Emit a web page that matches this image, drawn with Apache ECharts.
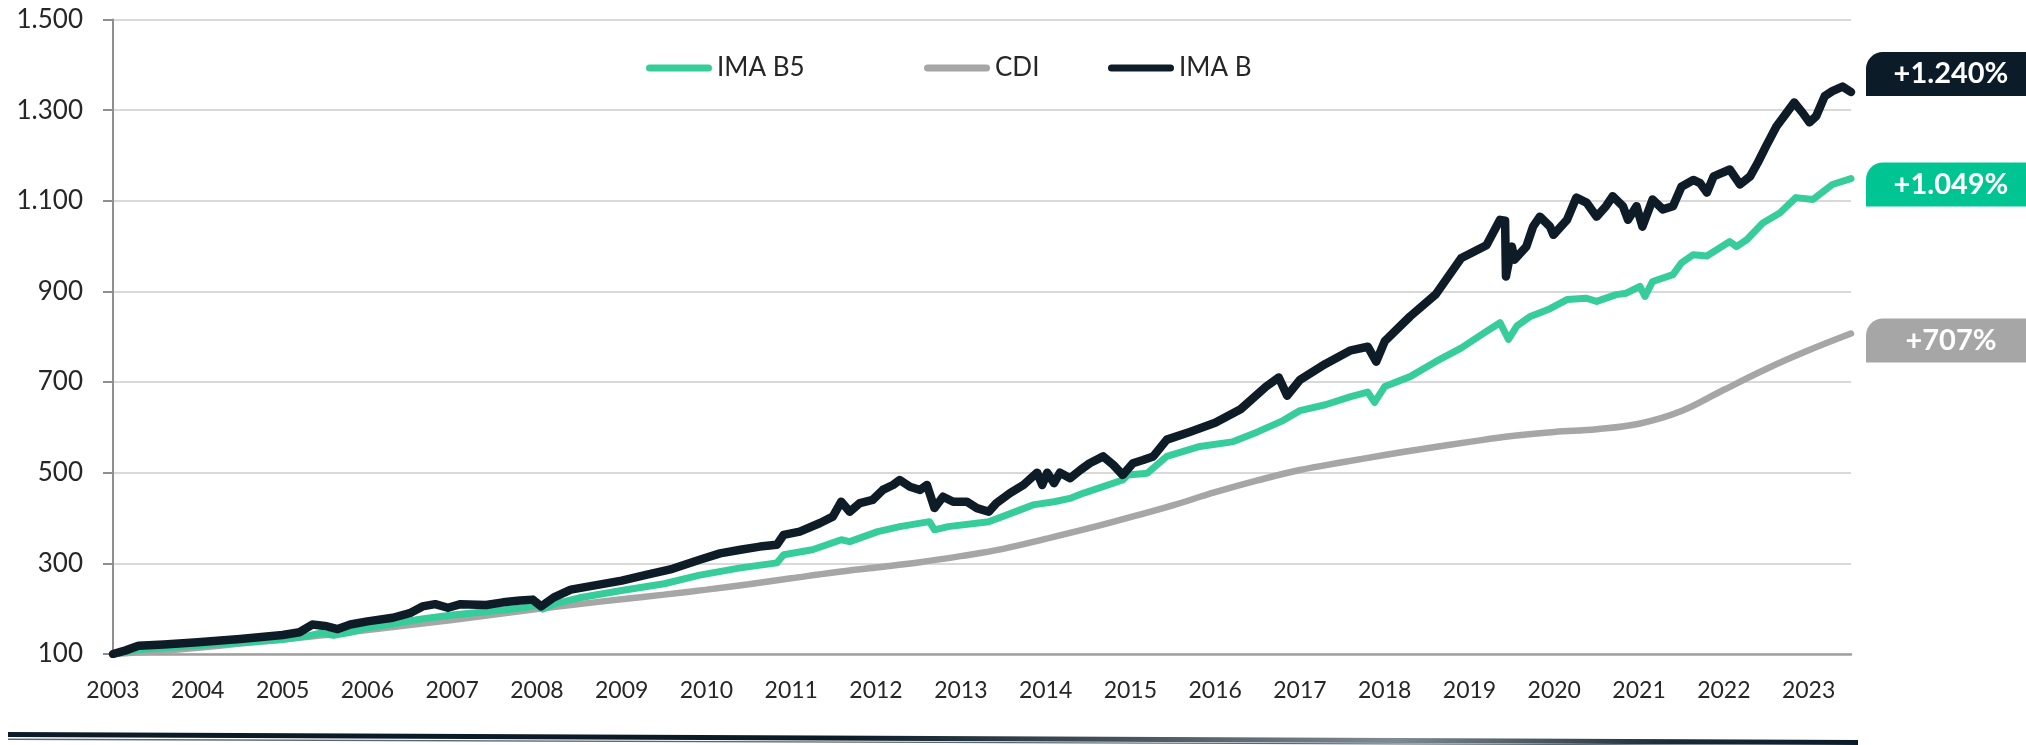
<!DOCTYPE html>
<html>
<head>
<meta charset="utf-8">
<script src="https://cdn.jsdelivr.net/npm/echarts@6/dist/echarts.min.js"></script>
<style>
  html, body { margin: 0; padding: 0; background: #ffffff; }
  #chart { width: 2026px; height: 745px; }
</style>
</head>
<body>
<div id="chart"></div>
<script>
// Accumulated index (base 100 at the start of 2003); x = decimal year
const yearTicks = [2003, 2004, 2005, 2006, 2007, 2008, 2009, 2010, 2011, 2012, 2013,
  2014, 2015, 2016, 2017, 2018, 2019, 2020, 2021, 2022, 2023];
const valueTicks = [100, 300, 500, 700, 900, 1100, 1300, 1500];

const cdi = [
  [2003.0, 100], [2003.5, 106], [2004.0, 114], [2004.5, 123], [2005.0, 132], [2005.5, 142],
  [2006.0, 153], [2006.5, 164], [2007.0, 175], [2007.5, 187], [2008.0, 199], [2008.5, 210],
  [2009.0, 221], [2009.5, 231], [2010.0, 242], [2010.5, 254], [2011.0, 267], [2011.5, 280],
  [2012.0, 291], [2012.5, 302], [2013.0, 316], [2013.5, 332], [2014.0, 354], [2014.5, 377],
  [2015.0, 402], [2015.5, 428], [2016.0, 457], [2016.5, 483], [2017.0, 506], [2017.5, 523],
  [2018.0, 539], [2018.5, 554], [2019.0, 568], [2019.5, 581], [2020.0, 590], [2020.5, 596],
  [2021.0, 608], [2021.5, 636], [2022.0, 683], [2022.5, 729], [2023.0, 770], [2023.5, 807]
];

const imaB5 = [
  [2003.0, 100], [2003.3, 110], [2003.6, 114], [2004.0, 119], [2004.5, 125], [2005.0, 132],
  [2005.3, 140], [2005.45, 146], [2005.6, 141], [2005.8, 148], [2006.0, 158], [2006.3, 166],
  [2006.6, 176], [2007.0, 186], [2007.4, 193], [2007.8, 201], [2008.0, 207], [2008.07, 199],
  [2008.2, 210], [2008.5, 224], [2009.0, 240], [2009.5, 255], [2009.92, 274], [2010.4, 290],
  [2010.83, 301], [2010.91, 319], [2011.25, 330], [2011.59, 352], [2011.69, 348], [2012.02, 370],
  [2012.28, 381], [2012.63, 392], [2012.69, 374], [2012.85, 381], [2013.33, 392], [2013.7, 418],
  [2013.85, 429], [2014.1, 436], [2014.3, 444], [2014.45, 455], [2014.91, 484], [2014.97, 495],
  [2015.2, 499], [2015.43, 536], [2015.82, 558], [2016.2, 568], [2016.5, 590],
  [2016.8, 615], [2017.0, 637], [2017.3, 650], [2017.6, 668], [2017.8, 678], [2017.88, 655],
  [2018.0, 690], [2018.3, 712], [2018.6, 745], [2018.9, 775], [2019.2, 812], [2019.36, 831],
  [2019.46, 794], [2019.56, 824], [2019.71, 844], [2019.95, 862], [2020.15, 882], [2020.38, 885],
  [2020.5, 878], [2020.73, 893], [2020.85, 896], [2021.01, 911], [2021.07, 889], [2021.16, 922],
  [2021.4, 937], [2021.5, 963], [2021.64, 981], [2021.8, 978], [2022.07, 1010], [2022.15, 999],
  [2022.27, 1014], [2022.46, 1051], [2022.66, 1073], [2022.85, 1107], [2023.05, 1103],
  [2023.28, 1136], [2023.5, 1149]
];

const imaB = [
  [2003.0, 100], [2003.15, 108], [2003.3, 118], [2003.6, 121], [2004.0, 126], [2004.5, 133],
  [2005.0, 142], [2005.2, 148], [2005.35, 165], [2005.5, 162], [2005.65, 155], [2005.8, 165],
  [2006.0, 172], [2006.3, 180], [2006.5, 190], [2006.65, 205], [2006.8, 210], [2006.95, 202],
  [2007.1, 210], [2007.4, 208], [2007.6, 214], [2007.8, 218], [2007.95, 220], [2008.05, 205],
  [2008.2, 225], [2008.4, 242], [2008.7, 252], [2009.0, 262], [2009.3, 275], [2009.6, 288],
  [2009.92, 308], [2010.16, 322], [2010.4, 330], [2010.63, 337], [2010.83, 341], [2010.91, 363],
  [2011.1, 370], [2011.34, 389], [2011.49, 403], [2011.59, 436], [2011.69, 414], [2011.81, 433],
  [2011.96, 440], [2012.08, 462], [2012.2, 473], [2012.28, 484], [2012.4, 469], [2012.52, 462],
  [2012.6, 473], [2012.69, 422], [2012.79, 447], [2012.91, 436], [2013.07, 436], [2013.19, 422],
  [2013.33, 414], [2013.42, 433], [2013.58, 455], [2013.74, 473], [2013.9, 500], [2013.96, 473],
  [2014.02, 500], [2014.1, 477], [2014.17, 500], [2014.29, 488], [2014.41, 506], [2014.52, 521],
  [2014.68, 536], [2014.8, 517], [2014.91, 495], [2015.03, 521], [2015.15, 528], [2015.27, 536],
  [2015.43, 573], [2015.7, 590], [2016.0, 610], [2016.3, 640], [2016.6, 690], [2016.75, 710],
  [2016.85, 670], [2017.0, 705], [2017.3, 740], [2017.6, 770], [2017.8, 778], [2017.9, 745],
  [2018.0, 790], [2018.3, 845], [2018.6, 893], [2018.9, 973], [2019.2, 1002], [2019.36, 1058],
  [2019.42, 1056], [2019.43, 933], [2019.5, 999], [2019.53, 970], [2019.67, 999], [2019.75, 1043],
  [2019.83, 1065], [2019.95, 1043], [2019.99, 1025], [2020.15, 1058], [2020.26, 1107],
  [2020.38, 1096], [2020.5, 1065], [2020.61, 1088], [2020.69, 1110], [2020.81, 1088],
  [2020.87, 1058], [2020.97, 1088], [2021.04, 1043], [2021.16, 1103], [2021.28, 1081],
  [2021.4, 1088], [2021.5, 1131], [2021.64, 1146], [2021.72, 1139], [2021.8, 1118],
  [2021.88, 1154], [2022.07, 1169], [2022.19, 1136], [2022.31, 1154], [2022.4, 1184],
  [2022.5, 1221], [2022.62, 1264], [2022.74, 1294], [2022.83, 1317], [2022.93, 1294],
  [2023.01, 1273], [2023.09, 1287], [2023.19, 1331], [2023.28, 1342], [2023.4, 1352],
  [2023.5, 1340]
];

const COLORS = {
  imaB5: '#36cd9a', imaB5Tag: '#00c593',
  cdi: '#a6a6a6', cdiTag: '#a6a6a6',
  imaB: '#0e1c28', imaBTag: '#0b1b27'
};
const FONT = 'Lato, "Noto Sans", sans-serif';

// pt-BR thousands separator
function fmt(n) {
  return String(Math.round(n)).replace(/\B(?=(\d{3})+(?!\d))/g, '.');
}
function gainLabel(p) {
  return '{v|+' + fmt(p.value[1] - 100) + '%}';
}
function endTag(bg, dy) {
  return {
    show: true,
    distance: 15,
    offset: [0, dy],
    formatter: gainLabel,
    backgroundColor: bg,
    borderRadius: [17, 0, 17, 0],
    padding: 0,
    rich: {
      v: {
        width: 170, height: 44, lineHeight: 44, align: 'center',
        color: '#ffffff', fontSize: 29, fontWeight: 'bold', fontFamily: FONT,
        padding: [0, 10, 0, 0]
      }
    }
  };
}

const legendIcon = 'path://M3.5,0 L62.5,0 A3.5,3.5 0 0 1 62.5,7 L3.5,7 A3.5,3.5 0 0 1 3.5,0 Z';
function legendAt(name, left) {
  return {
    data: [name], left: left, top: 53, itemWidth: 66, itemHeight: 7,
    icon: legendIcon, selectedMode: false, padding: 0,
    textStyle: { fontSize: 26, color: '#262626', fontFamily: FONT, lineHeight: 30 }
  };
}

const chart = echarts.init(document.getElementById('chart'), null, { renderer: 'canvas' });
chart.setOption({
  animation: false,
  backgroundColor: '#ffffff',
  grid: { left: 113, right: 175, top: 19.5, bottom: 91, containLabel: false },
  legend: [legendAt('IMA B5', 646), legendAt('CDI', 924), legendAt('IMA B', 1108)],
  xAxis: {
    type: 'value', min: yearTicks[0], max: 2023.5, interval: 1,
    axisLine: { show: true, lineStyle: { color: '#a0a0a0', width: 2.5 } },
    axisTick: { show: false },
    splitLine: { show: false },
    axisLabel: {
      margin: 25, fontSize: 23, color: '#262626', fontFamily: FONT,
      formatter: v => (yearTicks.indexOf(v) >= 0 ? String(v) : '')
    }
  },
  yAxis: {
    type: 'value', min: valueTicks[0], max: valueTicks[valueTicks.length - 1], interval: 200,
    axisLine: { show: true, lineStyle: { color: '#8f8f8f', width: 2 } },
    axisTick: { show: true, length: 10, lineStyle: { color: '#8f8f8f', width: 2 } },
    splitLine: { show: true, lineStyle: { color: '#d9d9d9', width: 2 } },
    axisLabel: {
      margin: 30, fontSize: 26, color: '#262626', fontFamily: FONT,
      formatter: v => (valueTicks.indexOf(v) >= 0 ? fmt(v) : '')
    }
  },
  series: [
    {
      name: 'CDI', type: 'line', data: cdi, smooth: 0.4, showSymbol: false, z: 2,
      lineStyle: { color: COLORS.cdi, width: 6.5, cap: 'round' },
      itemStyle: { color: COLORS.cdi },
      endLabel: endTag(COLORS.cdiTag, 7)
    },
    {
      name: 'IMA B5', type: 'line', data: imaB5, showSymbol: false, z: 3,
      lineStyle: { color: COLORS.imaB5, width: 7, cap: 'round', join: 'round' },
      itemStyle: { color: COLORS.imaB5 },
      endLabel: endTag(COLORS.imaB5Tag, 6)
    },
    {
      name: 'IMA B', type: 'line', data: imaB, showSymbol: false, z: 4,
      lineStyle: { color: COLORS.imaB, width: 8.5, cap: 'round', join: 'round' },
      itemStyle: { color: COLORS.imaB },
      endLabel: endTag(COLORS.imaBTag, -18)
    }
  ],
  graphic: [
    // footer rule: tapered dark band with a thin companion line
    {
      type: 'polygon', silent: true,
      shape: { points: [[8, 732], [1858, 740], [1858, 745], [8, 737]] },
      style: {
        fill: {
          type: 'linear', x: 0, y: 0, x2: 1, y2: 0,
          colorStops: [
            { offset: 0, color: '#0b1b27' }, { offset: 0.45, color: '#0b1b27' },
            { offset: 0.75, color: '#7f8a92' }, { offset: 0.9, color: '#1a2a36' },
            { offset: 1, color: '#0b1b27' }
          ]
        }
      }
    },
    {
      type: 'polygon', silent: true,
      shape: { points: [[8, 738.5], [1858, 745], [1858, 746], [8, 740]] },
      style: { fill: '#5a6670' }
    }
  ]
});
</script>
</body>
</html>
